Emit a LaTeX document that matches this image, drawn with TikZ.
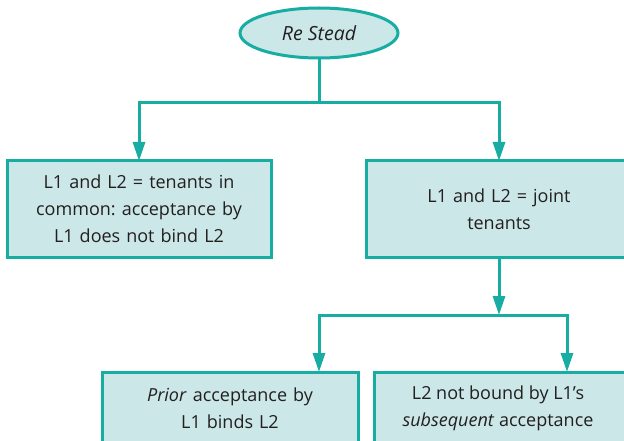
\documentclass[tikz,border=0pt]{standalone}
\usepackage{fontspec}
\setmainfont{Open Sans}
\usetikzlibrary{shapes.geometric,arrows.meta}
\definecolor{teal1}{HTML}{17ADA3}
\definecolor{tealfill}{HTML}{CBE7E7}
\definecolor{inktext}{HTML}{231F20}
\begin{document}
\frenchspacing
\begin{tikzpicture}[x=1pt,y=-1pt,
  every node/.style={font=\fontsize{18}{27}\selectfont, text=inktext},
  box/.style={draw=teal1, fill=tealfill, line width=3pt, align=center, inner sep=0pt},
  oval/.style={ellipse, draw=teal1, fill=tealfill, line width=3pt, inner sep=0pt,
    minimum width=158pt, minimum height=50pt},
  link/.style={draw=teal1, line width=3pt},
  arr/.style={link, -{Triangle[length=19pt,width=12pt]}}]
\useasboundingbox (0,0) rectangle (624,441);
\clip (0,0) rectangle (624,441);
% root
\node[oval, font=\fontsize{19.5}{27}\selectfont\itshape] (root) at (319,33) {Re Stead};
% second level
\node[box, minimum width=264pt, minimum height=96pt, text width=250pt] (common) at (139,209)
  {L1 and L2 = tenants in\\ common: acceptance by\\ L1 does not bind L2};
\node[box, minimum width=266pt, minimum height=96pt, text width=240pt] (joint) at (499,209)
  {L1 and L2 = joint\\ tenants};
% third level (boxes run past the lower and right edges)
\node[box, minimum width=256pt, minimum height=72pt, text width=240pt] (prior) at (230,408)
  {\textit{Prior} acceptance by\\ L1 binds L2};
\node[box, minimum width=266pt, minimum height=72pt] (subs) at (507,408) {};
\node[align=center] (substext) at (498,408)
  {L2 not bound by L1's\\ \textit{subsequent} acceptance};
% junction points and arrow targets
\coordinate (j1) at (319,103);
\coordinate (j2) at (499,315);
\coordinate (tc) at (139,161);
\coordinate (tj) at (499,161);
\coordinate (tp) at (319,372);
\coordinate (ts) at (567,372);
% connectors
\draw[link] (root.south) -- (j1);
\draw[arr] (j1) -| (tc);
\draw[arr] (j1) -| (tj);
\draw[arr] (joint.south) -- (j2);
\draw[arr] (j2) -| (tp);
\draw[arr] (j2) -| (ts);
\end{tikzpicture}
\end{document}
